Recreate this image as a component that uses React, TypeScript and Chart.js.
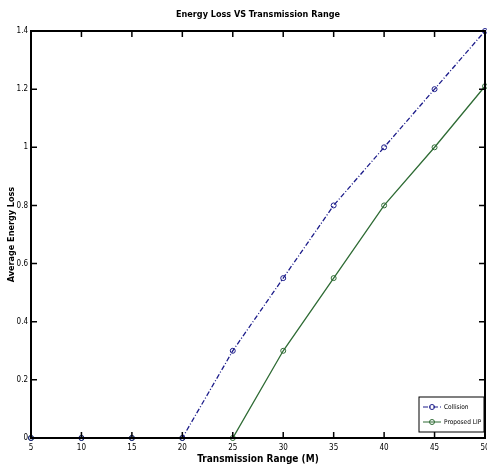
import React, { useEffect, useRef } from "react";
import { Chart, registerables } from "chart.js";

Chart.register(...registerables);

const ranges = [5, 10, 15, 20, 25, 30, 35, 40, 45, 50];
const collision = [0, 0, 0, 0, 0.3, 0.55, 0.8, 1.0, 1.2, 1.4];
const proposedLIP = [0, 0, 0, 0, 0, 0.3, 0.55, 0.8, 1.0, 1.21];
const xTicks = [5, 10, 15, 20, 25, 30, 35, 40, 45, 50];
const yTicks = [0, 0.2, 0.4, 0.6, 0.8, 1, 1.2, 1.4];
const seriesNames = ["Collision", "Proposed LIP"];
const chartTitle = "Energy Loss VS Transmission Range";
const xTitle = "Transmission Range (M)";
const yTitle = "Average Energy Loss";

const FONT = "'Liberation Sans Narrow', 'DejaVu Sans Condensed', sans-serif";
const BLUE = "#1c1c8a";
const GREEN = "#2e6b34";

const framePlugin = {
  id: "frame",
  afterDraw(chart: any) {
    const { ctx, chartArea: a, scales } = chart;
    ctx.save();
    ctx.strokeStyle = "#000";
    ctx.lineWidth = 1.5;
    const tl = 6;
    ctx.beginPath();
    scales.x.ticks.forEach((t: any) => {
      const px = scales.x.getPixelForValue(t.value);
      ctx.moveTo(px, a.bottom);
      ctx.lineTo(px, a.bottom - tl);
      ctx.moveTo(px, a.top);
      ctx.lineTo(px, a.top + tl);
    });
    scales.y.ticks.forEach((t: any) => {
      const py = scales.y.getPixelForValue(t.value);
      ctx.moveTo(a.left, py);
      ctx.lineTo(a.left + tl, py);
      ctx.moveTo(a.right, py);
      ctx.lineTo(a.right - tl, py);
    });
    ctx.stroke();
    ctx.lineWidth = 2;
    ctx.strokeRect(a.left, a.top, a.right - a.left, a.bottom - a.top);

    // title
    ctx.fillStyle = "#000";
    ctx.font = `bold 9px ${FONT}`;
    ctx.textAlign = "center";
    ctx.textBaseline = "middle";
    ctx.fillText(chartTitle, (a.left + a.right) / 2, 15);

    // legend
    const lx = a.right - 66, ly = a.bottom - 41, lw = 65, lh = 35;
    ctx.fillStyle = "#fff";
    ctx.fillRect(lx, ly, lw, lh);
    ctx.lineWidth = 1;
    ctx.strokeStyle = "#000";
    ctx.strokeRect(lx, ly, lw, lh);
    chart.data.datasets.forEach((ds: any, i: number) => {
      const y = ly + 10 + i * 15;
      ctx.strokeStyle = ds.borderColor;
      ctx.lineWidth = 1;
      ctx.setLineDash(ds.borderDash || []);
      ctx.beginPath();
      ctx.moveTo(lx + 4, y);
      ctx.lineTo(lx + 22, y);
      ctx.stroke();
      ctx.setLineDash([]);
      ctx.beginPath();
      ctx.arc(lx + 13, y, 2.5, 0, Math.PI * 2);
      ctx.stroke();
      ctx.fillStyle = "#000";
      ctx.font = `6.5px ${FONT}`;
      ctx.textAlign = "left";
      ctx.fillText(ds.label, lx + 25, y);
    });
    ctx.restore();
  },
};

export default function App() {
  const ref = useRef<HTMLCanvasElement>(null);
  useEffect(() => {
    if (!ref.current) return;
    const chart = new Chart(ref.current, {
      type: "line",
      data: {
        datasets: [
          {
            label: seriesNames[0],
            data: ranges.map((x, i) => ({ x, y: collision[i] })),
            borderColor: BLUE,
            backgroundColor: "rgba(0,0,0,0)",
            borderWidth: 1.3,
            borderDash: [5, 2, 1, 2],
            pointRadius: 2.5,
            pointBorderWidth: 1,
            pointBorderColor: BLUE,
            pointBackgroundColor: "rgba(0,0,0,0)",
            clip: false as any,
          },
          {
            label: seriesNames[1],
            data: ranges.map((x, i) => ({ x, y: proposedLIP[i] })),
            borderColor: GREEN,
            backgroundColor: "rgba(0,0,0,0)",
            borderWidth: 1.3,
            pointRadius: 2.5,
            pointBorderWidth: 1,
            pointBorderColor: GREEN,
            pointBackgroundColor: "rgba(0,0,0,0)",
            clip: false as any,
          },
        ],
      },
      options: {
        animation: false,
        responsive: false,
        layout: { padding: { top: 31, right: 1, left: 0, bottom: 0 } },
        plugins: { legend: { display: false }, title: { display: false }, tooltip: { enabled: false } },
        scales: {
          x: {
            type: "linear",
            min: 5,
            max: 50,
            afterBuildTicks: (s: any) => { s.ticks = xTicks.map((v) => ({ value: v })); },
            afterFit: (s: any) => { s.height = 38; s.paddingRight = 0; s.paddingLeft = 0; },
            grid: { display: false, drawTicks: false },
            border: { display: false },
            ticks: { color: "#000", padding: 5, font: { family: FONT, size: 8 }, maxRotation: 0 },
            title: { display: true, text: xTitle, color: "#000", font: { family: FONT, size: 10, weight: "bold" }, padding: { top: 0, bottom: 11 } },
          },
          y: {
            type: "linear",
            min: 0,
            max: 1.4,
            afterBuildTicks: (s: any) => { s.ticks = yTicks.map((v) => ({ value: v })); },
            afterFit: (s: any) => { s.width = 31; s.paddingTop = 0; s.paddingBottom = 0; },
            grid: { display: false, drawTicks: false },
            border: { display: false },
            ticks: { color: "#000", padding: 3, font: { family: FONT, size: 8 }, callback: (v: any) => String(Math.round(v * 10) / 10) },
            title: { display: true, text: yTitle, color: "#000", font: { family: FONT, size: 9, weight: "bold" }, padding: { top: 6, bottom: 0 } },
          },
        },
      },
      plugins: [framePlugin],
    });
    return () => chart.destroy();
  }, []);
  return (
    <div style={{ position: "fixed", left: 0, top: 0, width: 487, height: 476, background: "#fff", overflow: "hidden" }}>
      <canvas ref={ref} width={490} height={476} style={{ width: 490, height: 476, display: "block" }} />
    </div>
  );
}
